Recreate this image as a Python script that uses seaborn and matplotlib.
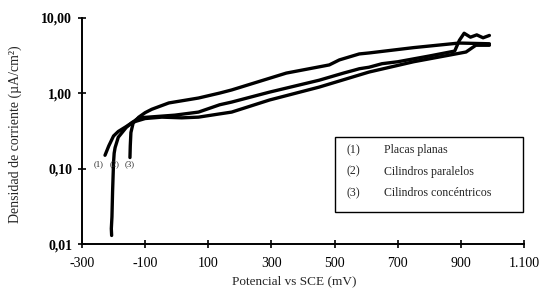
import numpy as np
import pandas as pd
import seaborn as sns
import matplotlib.pyplot as plt
from matplotlib.patches import Rectangle
from matplotlib.ticker import FixedLocator, NullLocator

# curva (1) Placas planas
pot_1 = [-227, -215, -200, -185, -160, -140, -100, -47, 16, 69, 136, 174, 294, 451, 609, 750, 900, 916, 947, 990]
dens_1 = [0.15, 0.20, 0.27, 0.31, 0.36, 0.41, 0.46, 0.48, 0.47, 0.48, 0.53, 0.56, 0.81, 1.20, 1.90, 2.60, 3.40, 3.50, 4.30, 4.30]

# curva (2) Cilindros paralelos
pot_2 = [-206, -207, -205, -203, -200, -198, -195, -185, -160, -140, -120, -6, 69, 136, 174, 294, 451, 500, 530, 560, 578, 609,
         650, 700, 800, 880, 895, 910, 930, 950, 970, 990]
dens_2 = [0.013, 0.016, 0.023, 0.05, 0.12, 0.16, 0.19, 0.26, 0.35, 0.41, 0.47, 0.51, 0.56, 0.70, 0.76, 1.03, 1.48, 1.70, 1.85, 2.0, 2.1, 2.2,
          2.45, 2.6, 3.1, 3.6, 5.0, 6.2, 5.5, 5.9, 5.4, 5.8]

# curva (3) Cilindros concéntricos
pot_3 = [-148, -147, -145, -138, -120, -100, -79, -25, 69, 136, 174, 347, 483, 515, 578, 609, 750, 894, 990]
dens_3 = [0.14, 0.20, 0.30, 0.40, 0.48, 0.55, 0.61, 0.74, 0.86, 1.00, 1.10, 1.84, 2.36, 2.75, 3.30, 3.40, 4.00, 4.60, 4.50]

curvas = ['(1)', '(2)', '(3)']
nombres = ['Placas planas', 'Cilindros paralelos', 'Cilindros concéntricos']
x_ticks = [-300, -100, 100, 300, 500, 700, 900, 1100]
x_labels = ['-300', '-100', '100', '300', '500', '700', '900', '1.100']
y_ticks = [0.01, 0.1, 1, 10]
y_labels = ['0,01', '0,10', '1,00', '10,00']

sns.set_style("ticks")
plt.rcParams['font.family'] = ['Liberation Serif', 'DejaVu Serif']
plt.rcParams['font.size'] = 10

fig = plt.figure(figsize=(5.5, 2.93), dpi=100)
ax = fig.add_axes([0.149, 0.167, 0.804, 0.773])

for px, dy in [(pot_1, dens_1), (pot_2, dens_2), (pot_3, dens_3)]:
    df = pd.DataFrame({'x': px, 'y': dy})
    sns.lineplot(data=df, x='x', y='y', sort=False, estimator=None, color='black', lw=2.4, ax=ax)

ax.set_yscale('log')
ax.set_xlim(-300, 1100)
ax.set_ylim(0.01, 10)
ax.xaxis.set_major_locator(FixedLocator(x_ticks))
ax.set_xticklabels(x_labels)
ax.yaxis.set_major_locator(FixedLocator(y_ticks))
ax.yaxis.set_minor_locator(NullLocator())
ax.set_yticklabels(y_labels, fontweight='bold')
ax.tick_params(direction='inout', length=6, width=1.2, colors='black', labelsize=10)
ax.tick_params(axis='x', pad=6)
ax.tick_params(axis='y', pad=4)
sns.despine(ax=ax)
for s in ['left', 'bottom']:
    ax.spines[s].set_linewidth(1.4)
    ax.spines[s].set_color('black')

ax.set_xlabel('Potencial vs SCE (mV)', fontsize=9.5)
ax.set_ylabel('Densidad de corriente (µA/cm²)', fontsize=10)
ax.xaxis.set_label_coords(0.48, -0.14)
ax.yaxis.set_label_coords(-0.136, 0.483)

# etiquetas junto al inicio de las curvas
for lab, xp in zip(curvas, [-246, -196, -148]):
    ax.text(xp, 0.115, lab, fontsize=6.2, ha='center', va='center')

# cuadro de leyenda
box = Rectangle((335 / 550, 1 - 212 / 293), (523 - 335) / 550, (212 - 137) / 293,
                transform=fig.transFigure, fill=False, edgecolor='black', lw=1.0)
fig.add_artist(box)
for i, (c, n) in enumerate(zip(curvas, nombres)):
    yy = 1 - (150 + i * 21.5) / 293
    fig.text(353 / 550, yy, c, ha='center', va='center', fontsize=8.6)
    fig.text(384 / 550, yy, n, ha='left', va='center', fontsize=8.6)

fig.savefig('out.png', dpi=100)
